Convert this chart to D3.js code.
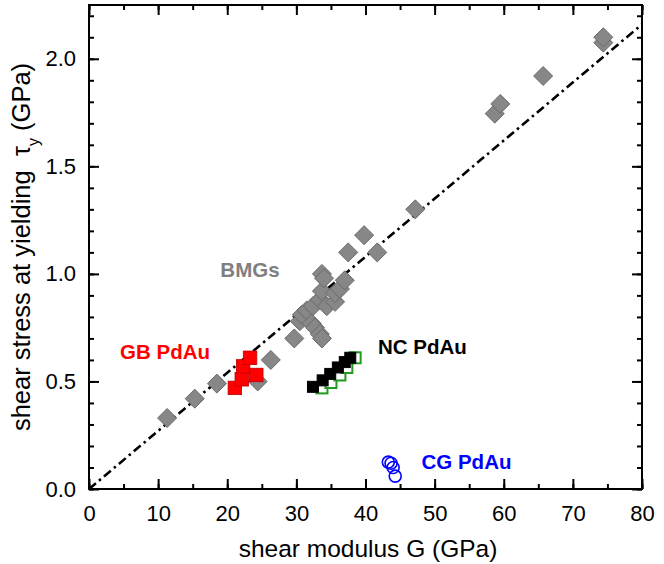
<!DOCTYPE html>
<html>
<head>
<meta charset="utf-8">
<script src="https://cdn.jsdelivr.net/npm/d3@7"></script>
<style>
    body { margin: 0; background: #fff; }
    svg text { font-family: "Liberation Sans", Arial, sans-serif; }
</style>
</head>
<body>
<div id="chart"></div>
<script>

// BMGs (shear modulus G, shear stress at yielding)
let bmgG   = [11.3, 15.3, 18.5, 24.4, 26.3, 29.7, 30.5, 30.8, 31.5, 32.4, 32.2, 32.7, 33.4, 33.7,
              33.4, 33.7, 33.7, 34.0, 34.4, 35.6, 35.6, 36.3, 37.0, 37.5, 39.8, 41.7, 47.2,
              58.7, 59.5, 65.7, 74.4, 74.4];
let bmgTau = [0.33, 0.42, 0.49, 0.50, 0.60, 0.70, 0.78, 0.81, 0.83, 0.85, 0.77, 0.75, 0.72, 0.70,
              0.88, 0.92, 1.00, 0.98, 0.85, 0.87, 0.91, 0.93, 0.97, 1.10, 1.18, 1.10, 1.30,
              1.745, 1.79, 1.92, 2.075, 2.10];

// GB PdAu
let gbG   = [21.1, 22.1, 24.2, 22.3, 23.3];
let gbTau = [0.47, 0.51, 0.53, 0.57, 0.61];

// NC PdAu (two sets)
let ncOpenG   = [33.7, 35.0, 36.3, 37.3, 38.5];
let ncOpenTau = [0.47, 0.495, 0.53, 0.565, 0.61];
let ncFillG   = [32.4, 33.8, 34.9, 36.0, 37.0, 37.8];
let ncFillTau = [0.475, 0.505, 0.535, 0.565, 0.59, 0.61];

// CG PdAu
let cgG   = [43.3, 43.7, 44.0, 44.3];
let cgTau = [0.125, 0.12, 0.10, 0.06];

// fit line tau = slope * G
let fitSlope = 0.027;

let xTicks = [0, 10, 20, 30, 40, 50, 60, 70, 80];
let yTicks = [0.0, 0.5, 1.0, 1.5, 2.0];

let zip = (a, b) => a.map((v, i) => ({g: v, t: b[i]}));

let width = 664, height = 564;

let svg = d3.select("#chart").append("svg")
    .attr("width", width)
    .attr("height", height);

let x = d3.scaleLinear().domain([0, 80]).range([89, 642]);
let y = d3.scaleLinear().domain([0, 2.25]).range([489, 5]);

let xMinor = d3.range(0, 80.1, 5);
let yMinor = d3.range(0, 2.251, 0.1);

// minor ticks on all four sides
svg.append("g").attr("transform", "translate(0," + y(0) + ")")
    .call(d3.axisBottom(x).tickValues(xMinor).tickSizeInner(-5).tickSizeOuter(0).tickFormat(""));
svg.append("g").attr("transform", "translate(0," + y(2.25) + ")")
    .call(d3.axisTop(x).tickValues(xMinor).tickSizeInner(-5).tickSizeOuter(0).tickFormat(""));
svg.append("g").attr("transform", "translate(" + x(0) + ",0)")
    .call(d3.axisLeft(y).tickValues(yMinor).tickSizeInner(-5).tickSizeOuter(0).tickFormat(""));
svg.append("g").attr("transform", "translate(" + x(80) + ",0)")
    .call(d3.axisRight(y).tickValues(yMinor).tickSizeInner(-5).tickSizeOuter(0).tickFormat(""));

// major ticks + labels
svg.append("g").attr("class", "axis").attr("transform", "translate(0," + y(0) + ")")
    .call(d3.axisBottom(x).tickValues(xTicks).tickSizeInner(-10).tickSizeOuter(0).tickPadding(16).tickFormat(d3.format("d")));
svg.append("g").attr("transform", "translate(0," + y(2.25) + ")")
    .call(d3.axisTop(x).tickValues(xTicks).tickSizeInner(-10).tickSizeOuter(0).tickFormat(""));
svg.append("g").attr("class", "axis").attr("transform", "translate(" + x(0) + ",0)")
    .call(d3.axisLeft(y).tickValues(yTicks).tickSizeInner(-10).tickSizeOuter(0).tickPadding(13).tickFormat(d3.format(".1f")));
svg.append("g").attr("transform", "translate(" + x(80) + ",0)")
    .call(d3.axisRight(y).tickValues(yTicks).tickSizeInner(-10).tickSizeOuter(0).tickFormat(""));

svg.selectAll(".domain").remove();
svg.selectAll(".tick line").attr("stroke", "#000").attr("stroke-width", 2);
svg.selectAll(".axis text")
    .attr("fill", "#000")
    .style("font-size", "22px");

// frame
svg.append("rect")
    .attr("x", x(0)).attr("y", y(2.25))
    .attr("width", x(80) - x(0)).attr("height", y(0) - y(2.25))
    .attr("fill", "none").attr("stroke", "#000").attr("stroke-width", 2);

let plot = svg.append("g");

// dash-dot fit line
plot.append("line")
    .attr("x1", x(0)).attr("y1", y(0))
    .attr("x2", x(80)).attr("y2", y(80 * fitSlope))
    .attr("stroke", "#000")
    .attr("stroke-width", 2.6)
    .attr("stroke-dasharray", "9,4,2.5,4");

// BMGs diamonds
let dia = 9.5;
plot.selectAll(".bmg")
    .data(zip(bmgG, bmgTau))
    .enter().append("path")
    .attr("class", "bmg")
    .attr("d", d => {
        let cx = x(d.g), cy = y(d.t);
        return "M" + cx + "," + (cy - dia) + "L" + (cx + dia) + "," + cy +
            "L" + cx + "," + (cy + dia) + "L" + (cx - dia) + "," + cy + "Z";
    })
    .attr("fill", "#878787")
    .attr("stroke", "#6b6b6b")
    .attr("stroke-width", 1);

// GB PdAu red squares
let sq = 13.5;
plot.selectAll(".gb")
    .data(zip(gbG, gbTau))
    .enter().append("rect")
    .attr("class", "gb")
    .attr("x", d => x(d.g) - sq / 2)
    .attr("y", d => y(d.t) - sq / 2)
    .attr("width", sq).attr("height", sq)
    .attr("fill", "#ff0000")
    .attr("stroke", "#c00000")
    .attr("stroke-width", 0.8);

// NC PdAu open green squares
let sq2 = 11;
plot.selectAll(".ncopen")
    .data(zip(ncOpenG, ncOpenTau))
    .enter().append("rect")
    .attr("class", "ncopen")
    .attr("x", d => x(d.g) - sq2 / 2)
    .attr("y", d => y(d.t) - sq2 / 2)
    .attr("width", sq2).attr("height", sq2)
    .attr("fill", "#fff")
    .attr("stroke", "#1f9a1f")
    .attr("stroke-width", 2);

// NC PdAu filled black squares
plot.selectAll(".ncfill")
    .data(zip(ncFillG, ncFillTau))
    .enter().append("rect")
    .attr("class", "ncfill")
    .attr("x", d => x(d.g) - sq2 / 2)
    .attr("y", d => y(d.t) - sq2 / 2)
    .attr("width", sq2).attr("height", sq2)
    .attr("fill", "#000")
    .attr("stroke", "#000")
    .attr("stroke-width", 1);

// CG PdAu blue circles
plot.selectAll(".cg")
    .data(zip(cgG, cgTau))
    .enter().append("circle")
    .attr("class", "cg")
    .attr("cx", d => x(d.g))
    .attr("cy", d => y(d.t))
    .attr("r", 6)
    .attr("fill", "none")
    .attr("stroke", "#0000ff")
    .attr("stroke-width", 1.6);

// labels
let labels = [
    {text: "BMGs", g: 19, t: 1.02, color: "#808080"},
    {text: "GB PdAu", g: 4.5, t: 0.64, color: "#ff0000"},
    {text: "NC PdAu", g: 41.8, t: 0.66, color: "#000"},
    {text: "CG PdAu", g: 48.1, t: 0.125, color: "#0000ff"}
];
svg.selectAll(".lbl")
    .data(labels)
    .enter().append("text")
    .attr("class", "lbl")
    .attr("x", d => x(d.g))
    .attr("y", d => y(d.t))
    .attr("dy", "0.35em")
    .attr("fill", d => d.color)
    .style("font-size", "20.5px")
    .style("font-weight", "bold")
    .text(d => d.text);

// axis titles
svg.append("text")
    .attr("x", 368).attr("y", 557)
    .attr("text-anchor", "middle")
    .style("font-size", "24.5px")
    .text("shear modulus G (GPa)");

let yt = svg.append("text")
    .attr("transform", "translate(30,247) rotate(-90)")
    .attr("text-anchor", "middle")
    .style("font-size", "25.5px");
yt.append("tspan").text("shear stress at yielding\u00A0\u00A0τ");
yt.append("tspan").attr("baseline-shift", "sub").style("font-size", "16px").text("y");
yt.append("tspan").text("\u00A0(GPa)");

</script>
</body>
</html>
